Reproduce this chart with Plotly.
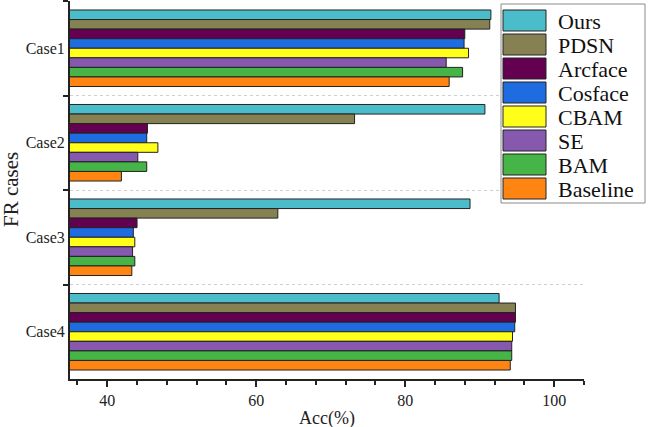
import plotly.graph_objects as go

cases = ["Case1", "Case2", "Case3", "Case4"]
methods = ["Ours", "PDSN", "Arcface", "Cosface", "CBAM", "SE", "BAM", "Baseline"]
colors = ["#4BBCC9", "#858152", "#640050", "#1F6BE0", "#FFFF1A", "#8659AE", "#46B447", "#FF8513"]

ours = [91.5, 90.7, 88.7, 92.6]
pdsn = [91.35, 73.2, 62.9, 94.8]
arcface = [88.0, 45.4, 44.0, 94.8]
cosface = [87.9, 45.3, 43.5, 94.7]
cbam = [88.5, 46.8, 43.7, 94.4]
se = [85.5, 44.1, 43.4, 94.3]
bam = [87.7, 45.3, 43.7, 94.3]
baseline = [85.9, 41.9, 43.3, 94.1]

series = [ours, pdsn, arcface, cosface, cbam, se, bam, baseline]

x_title = "Acc(%)"
y_title = "FR cases"

FONT = "Liberation Serif"

fig = go.Figure()
for name, vals, col in zip(methods, series, colors):
    fig.add_trace(go.Bar(
        y=cases, x=vals, name=name, orientation="h",
        marker=dict(color=col, line=dict(color="#222222", width=1)),
        showlegend=False,
    ))

W, H = 649, 427
ml, mr, mt, mb = 70, 65, 1, 48
pw, ph = W - ml - mr, H - mt - mb

def px(x):
    return (x - ml) / pw

def py(y):
    return 1 - (y - mt) / ph

# legend drawn as a box with swatches and labels
shapes = [dict(type="rect", xref="paper", yref="paper",
               x0=px(501), x1=px(645), y0=py(4), y1=py(203),
               line=dict(color="#8a8a8a", width=1), fillcolor="white", layer="above")]
annotations = []
for i, (name, col) in enumerate(zip(methods, colors)):
    top = 10 + i * 24
    shapes.append(dict(type="rect", xref="paper", yref="paper",
                       x0=px(503), x1=px(546), y0=py(top), y1=py(top + 21),
                       line=dict(color="#222222", width=1), fillcolor=col, layer="above"))
    annotations.append(dict(xref="paper", yref="paper", x=px(556), y=py(top + 11),
                            text=name, showarrow=False, xanchor="left", yanchor="middle",
                            font=dict(family=FONT, size=22, color="#111111")))

annotations.append(dict(xref="paper", yref="paper", x=0.5, y=py(418),
                        text=x_title, showarrow=False, xanchor="center", yanchor="middle",
                        font=dict(family=FONT, size=18, color="#222222")))
annotations.append(dict(xref="paper", yref="paper", x=px(11), y=py(190),
                        text=y_title, showarrow=False, xanchor="center", yanchor="middle",
                        textangle=-90,
                        font=dict(family=FONT, size=21, color="#222222")))

fig.update_layout(
    width=W, height=H,
    margin=dict(l=ml, r=mr, t=mt, b=mb),
    barmode="group", bargap=0.19, bargroupgap=0,
    plot_bgcolor="white", paper_bgcolor="white",
    font=dict(family=FONT, color="#222222"),
    shapes=shapes, annotations=annotations,
    xaxis=dict(
        range=[35, 104], tickvals=[40, 60, 80, 100],
        ticks="outside", ticklen=6, tickwidth=1.5, tickcolor="#222",
        showline=True, linecolor="#222", linewidth=2,
        showgrid=False, zeroline=False,
        tickfont=dict(size=16, family=FONT),
        minor=dict(tick0=0, dtick=4, ticks="outside", ticklen=4, tickcolor="#222", tickwidth=1.5, showgrid=False),
    ),
    yaxis=dict(
        autorange="reversed", type="category", categoryorder="array", categoryarray=cases,
        tickson="boundaries", ticks="outside", ticklen=5, tickwidth=1.5, tickcolor="#222",
        showline=True, linecolor="#222", linewidth=2,
        showgrid=True, gridcolor="#cfcfcf", griddash="dot", gridwidth=1,
        tickfont=dict(size=16, family=FONT),
    ),
)

fig.write_html(
    "out.html",
    config={"displayModeBar": False},
    post_script="document.body.style.margin='0px';document.body.style.padding='0px';",
)
